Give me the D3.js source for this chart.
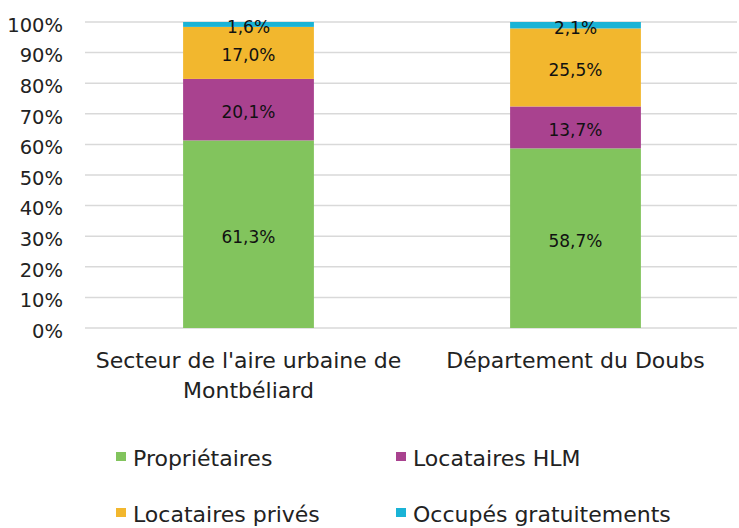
<!DOCTYPE html>
<html><head><meta charset="utf-8">
<script src="https://cdn.jsdelivr.net/npm/d3@7"></script>
<style>body{margin:0;background:#fff}svg{display:block}</style>
</head><body>
<script>
const categories = [["Secteur de l'aire urbaine de","Montbéliard"],["Département du Doubs"]];
const seriesNames = ["Propriétaires","Locataires HLM","Locataires privés","Occupés gratuitements"];
const seriesColors = ["#82c45d","#a9428f","#f2b72e","#1ab3d6"];
const proprietaires = [61.3, 58.7];
const locatairesHLM = [20.1, 13.7];
const locatairesPrives = [17.0, 25.5];
const occupesGratuit = [1.6, 2.1];
const valueLabels = [["61,3%","20,1%","17,0%","1,6%"],["58,7%","13,7%","25,5%","2,1%"]];
const yTicks = [0,10,20,30,40,50,60,70,80,90,100];

const W=739,H=528;
const svg=d3.select("body").append("svg").attr("width",W).attr("height",H);
const font="'DejaVu Sans', sans-serif";
const m={left:85,right:0};
const x=d3.scaleBand().domain([0,1]).range([m.left,W-m.right]).paddingInner(0.6).paddingOuter(0.3);
const y=d3.scaleLinear().domain([0,100]).range([328,22]);

// grid
svg.append("g").selectAll("line").data(yTicks).join("line")
  .attr("x1",m.left).attr("x2",737).attr("y1",d=>y(d)).attr("y2",d=>y(d))
  .attr("stroke","#d9d9d9").attr("stroke-width",1.5);

// y axis labels
const yAxis=d3.axisLeft(y).tickValues(yTicks).tickFormat(d=>d+"%").tickSize(0).tickPadding(0);
const ya=svg.append("g").attr("transform","translate(63,3)").call(yAxis);
ya.select(".domain").remove();
ya.selectAll("text").attr("font-family",font).attr("font-size",19.5).attr("fill","#222");

const series=[proprietaires,locatairesHLM,locatairesPrives,occupesGratuit];
const rows=[0,1].map(i=>{const o={i};seriesNames.forEach((s,k)=>o[s]=series[k][i]);return o;});
const stack=d3.stack().keys(seriesNames)(rows);

stack.forEach((layer,k)=>{
  svg.append("g").selectAll("rect").data(layer).join("rect")
    .attr("x",d=>x(d.data.i)).attr("width",x.bandwidth())
    .attr("y",d=>y(d[1])).attr("height",d=>y(d[0])-y(d[1]))
    .attr("fill",seriesColors[k]);
});
stack.forEach((layer,k)=>{
  svg.append("g").selectAll("text").data(layer).join("text")
    .attr("x",d=>x(d.data.i)+x.bandwidth()/2)
    .attr("y",d=>(y(d[0])+y(d[1]))/2+8.5)
    .attr("text-anchor","middle")
    .attr("font-family",font).attr("font-size",17).attr("fill","#111")
    .text(d=>valueLabels[d.data.i][k]);
});

// category labels
categories.forEach((lines,i)=>{
  const t=svg.append("text").attr("text-anchor","middle").attr("font-family",font).attr("font-size",22).attr("fill","#222");
  lines.forEach((l,j)=>t.append("tspan").attr("x",x(i)+x.bandwidth()/2).attr("y",368+j*30).text(l));
});

// legend
const legPos=[[116,466],[396,466],[116,522],[396,522]];
seriesNames.forEach((s,k)=>{
  const g=svg.append("g").attr("transform",`translate(${legPos[k][0]},${legPos[k][1]})`);
  g.append("rect").attr("x",0).attr("y",-14).attr("width",10).attr("height",9).attr("fill",seriesColors[k]);
  g.append("text").attr("x",17).attr("y",0).attr("font-family",font).attr("font-size",22).attr("fill","#222").text(s);
});
</script>
</body></html>
